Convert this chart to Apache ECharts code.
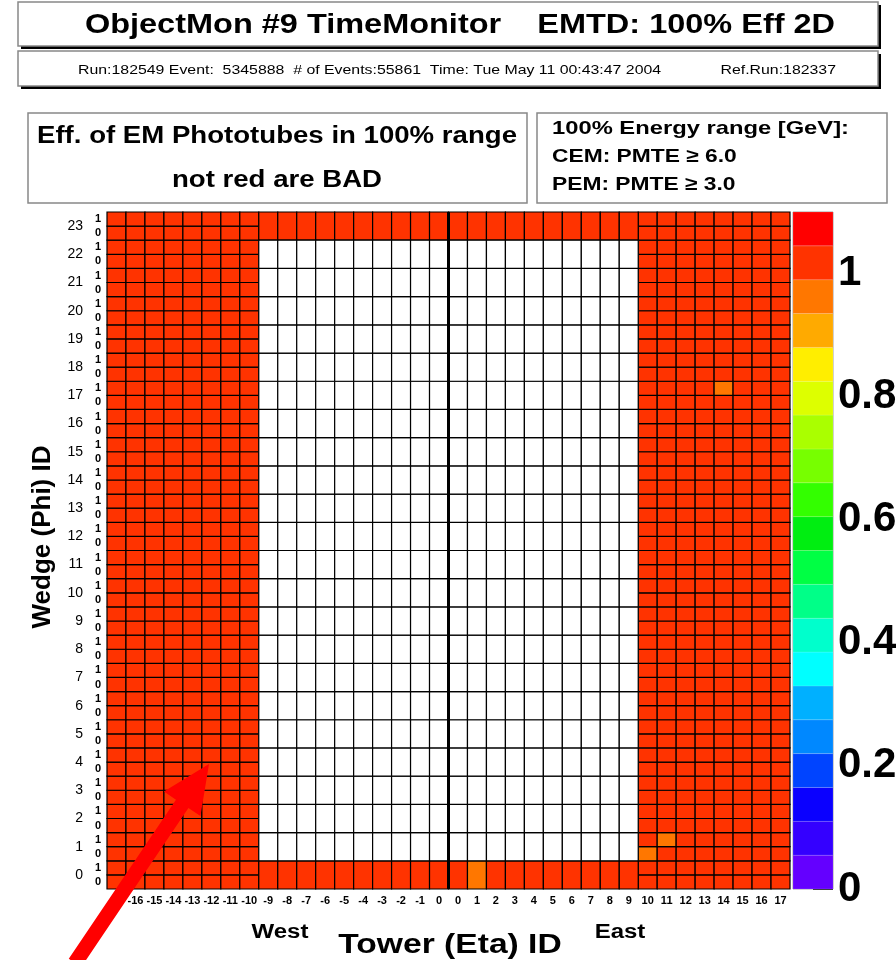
<!DOCTYPE html>
<html><head><meta charset="utf-8">
<script src="https://cdn.jsdelivr.net/npm/echarts@6/dist/echarts.min.js"></script>
<style>html,body{margin:0;padding:0;background:#fff}#c{width:896px;height:960px}</style>
</head><body><div id="c"></div>
<script>
// ---------- data ----------
const towerLabels = ['-17','-16','-15','-14','-13','-12','-11','-10','-9','-8','-7','-6','-5','-4','-3','-2','-1','0',
                     '0','1','2','3','4','5','6','7','8','9','10','11','12','13','14','15','16','17'];
const wedgeLabels = ['0','1','2','3','4','5','6','7','8','9','10','11','12','13','14','15','16','17','18','19','20','21','22','23'];
const subRowLabels = ['0','1'];
const colorbarTicks = [0, 0.2, 0.4, 0.6, 0.8, 1];
const zMin = 0, zMax = 1.1;
const palette = ['#6400ff','#3400ff','#0a00ff','#0044ff','#0088ff','#00b0ff','#00ffff','#00ffcc','#00ff88','#00ff44',
                 '#00ee11','#33ff00','#77ff00','#aaff00','#ddff00','#ffee00','#ffaa00','#ff7700','#ff3300','#ff0000'];

// West plug (towers -17..-10), rows: wedge*2+sub, from wedge 0 sub 0 upward
const westPlugEff = [
 [1,1,1,1,1,1,1,1],[1,1,1,1,1,1,1,1],[1,1,1,1,1,1,1,1],[1,1,1,1,1,1,1,1],
 [1,1,1,1,1,1,1,1],[1,1,1,1,1,1,1,1],[1,1,1,1,1,1,1,1],[1,1,1,1,1,1,1,1],
 [1,1,1,1,1,1,1,1],[1,1,1,1,1,1,1,1],[1,1,1,1,1,1,1,1],[1,1,1,1,1,1,1,1],
 [1,1,1,1,1,1,1,1],[1,1,1,1,1,1,1,1],[1,1,1,1,1,1,1,1],[1,1,1,1,1,1,1,1],
 [1,1,1,1,1,1,1,1],[1,1,1,1,1,1,1,1],[1,1,1,1,1,1,1,1],[1,1,1,1,1,1,1,1],
 [1,1,1,1,1,1,1,1],[1,1,1,1,1,1,1,1],[1,1,1,1,1,1,1,1],[1,1,1,1,1,1,1,1],
 [1,1,1,1,1,1,1,1],[1,1,1,1,1,1,1,1],[1,1,1,1,1,1,1,1],[1,1,1,1,1,1,1,1],
 [1,1,1,1,1,1,1,1],[1,1,1,1,1,1,1,1],[1,1,1,1,1,1,1,1],[1,1,1,1,1,1,1,1],
 [1,1,1,1,1,1,1,1],[1,1,1,1,1,1,1,1],[1,1,1,1,1,1,1,1],[1,1,1,1,1,1,1,1],
 [1,1,1,1,1,1,1,1],[1,1,1,1,1,1,1,1],[1,1,1,1,1,1,1,1],[1,1,1,1,1,1,1,1],
 [1,1,1,1,1,1,1,1],[1,1,1,1,1,1,1,1],[1,1,1,1,1,1,1,1],[1,1,1,1,1,1,1,1],
 [1,1,1,1,1,1,1,1],[1,1,1,1,1,1,1,1],[1,1,1,1,1,1,1,1],[1,1,1,1,1,1,1,1]
];
// East plug (towers 10..17)
const eastPlugEff = [
 [1,1,1,1,1,1,1,1],[1,1,1,1,1,1,1,1],[0.96,1,1,1,1,1,1,1],[1,0.96,1,1,1,1,1,1],
 [1,1,1,1,1,1,1,1],[1,1,1,1,1,1,1,1],[1,1,1,1,1,1,1,1],[1,1,1,1,1,1,1,1],
 [1,1,1,1,1,1,1,1],[1,1,1,1,1,1,1,1],[1,1,1,1,1,1,1,1],[1,1,1,1,1,1,1,1],
 [1,1,1,1,1,1,1,1],[1,1,1,1,1,1,1,1],[1,1,1,1,1,1,1,1],[1,1,1,1,1,1,1,1],
 [1,1,1,1,1,1,1,1],[1,1,1,1,1,1,1,1],[1,1,1,1,1,1,1,1],[1,1,1,1,1,1,1,1],
 [1,1,1,1,1,1,1,1],[1,1,1,1,1,1,1,1],[1,1,1,1,1,1,1,1],[1,1,1,1,1,1,1,1],
 [1,1,1,1,1,1,1,1],[1,1,1,1,1,1,1,1],[1,1,1,1,1,1,1,1],[1,1,1,1,1,1,1,1],
 [1,1,1,1,1,1,1,1],[1,1,1,1,1,1,1,1],[1,1,1,1,1,1,1,1],[1,1,1,1,1,1,1,1],
 [1,1,1,1,1,1,1,1],[1,1,1,1,1,1,1,1],[1,1,1,1,1,1,1,1],[1,1,1,1,0.96,1,1,1],
 [1,1,1,1,1,1,1,1],[1,1,1,1,1,1,1,1],[1,1,1,1,1,1,1,1],[1,1,1,1,1,1,1,1],
 [1,1,1,1,1,1,1,1],[1,1,1,1,1,1,1,1],[1,1,1,1,1,1,1,1],[1,1,1,1,1,1,1,1],
 [1,1,1,1,1,1,1,1],[1,1,1,1,1,1,1,1],[1,1,1,1,1,1,1,1],[1,1,1,1,1,1,1,1]
];
// Central towers (West -9..0, East 0..9), one row per wedge 0..23; null = empty (white)
const N = null;
const centralEff = [
 [1,1,1,1,1,1,1,1,1,1, 1,0.96,1,1,1,1,1,1,1,1],
 [N,N,N,N,N,N,N,N,N,N, N,N,N,N,N,N,N,N,N,N],
 [N,N,N,N,N,N,N,N,N,N, N,N,N,N,N,N,N,N,N,N],
 [N,N,N,N,N,N,N,N,N,N, N,N,N,N,N,N,N,N,N,N],
 [N,N,N,N,N,N,N,N,N,N, N,N,N,N,N,N,N,N,N,N],
 [N,N,N,N,N,N,N,N,N,N, N,N,N,N,N,N,N,N,N,N],
 [N,N,N,N,N,N,N,N,N,N, N,N,N,N,N,N,N,N,N,N],
 [N,N,N,N,N,N,N,N,N,N, N,N,N,N,N,N,N,N,N,N],
 [N,N,N,N,N,N,N,N,N,N, N,N,N,N,N,N,N,N,N,N],
 [N,N,N,N,N,N,N,N,N,N, N,N,N,N,N,N,N,N,N,N],
 [N,N,N,N,N,N,N,N,N,N, N,N,N,N,N,N,N,N,N,N],
 [N,N,N,N,N,N,N,N,N,N, N,N,N,N,N,N,N,N,N,N],
 [N,N,N,N,N,N,N,N,N,N, N,N,N,N,N,N,N,N,N,N],
 [N,N,N,N,N,N,N,N,N,N, N,N,N,N,N,N,N,N,N,N],
 [N,N,N,N,N,N,N,N,N,N, N,N,N,N,N,N,N,N,N,N],
 [N,N,N,N,N,N,N,N,N,N, N,N,N,N,N,N,N,N,N,N],
 [N,N,N,N,N,N,N,N,N,N, N,N,N,N,N,N,N,N,N,N],
 [N,N,N,N,N,N,N,N,N,N, N,N,N,N,N,N,N,N,N,N],
 [N,N,N,N,N,N,N,N,N,N, N,N,N,N,N,N,N,N,N,N],
 [N,N,N,N,N,N,N,N,N,N, N,N,N,N,N,N,N,N,N,N],
 [N,N,N,N,N,N,N,N,N,N, N,N,N,N,N,N,N,N,N,N],
 [N,N,N,N,N,N,N,N,N,N, N,N,N,N,N,N,N,N,N,N],
 [N,N,N,N,N,N,N,N,N,N, N,N,N,N,N,N,N,N,N,N],
 [1,1,1,1,1,1,1,1,1,1, 1,1,1,1,1,1,1,1,1,1]
];

// ---------- build series data ----------
const subAxisLabels = [];
wedgeLabels.forEach(() => subRowLabels.forEach(s => subAxisLabels.push(s)));

const filled = [], empty = [];
westPlugEff.forEach((row, r) => row.forEach((v, c) => filled.push([c, r, r, v])));
eastPlugEff.forEach((row, r) => row.forEach((v, c) => filled.push([28 + c, r, r, v])));
centralEff.forEach((row, w) => row.forEach((v, c) => {
  if (v === null) empty.push([8 + c, 2 * w, 2 * w + 1]);
  else filled.push([8 + c, 2 * w, 2 * w + 1, v]);
}));
const nBins = palette.length, binW = (zMax - zMin) / nBins;
const pieces = palette.map((col, i) => ({ gte: zMin + i * binW, lt: zMin + (i + 1) * binW + (i === nBins - 1 ? 1e-9 : 0), color: col }));
const colorbarData = palette.map((col, i) => [0, zMin + i * binW, zMin + (i + 1) * binW, zMin + (i + 0.5) * binW]);

function cellItem(api, fill) {
  const x = api.value(0), y0 = api.value(1), y1 = api.value(2);
  const a = api.coord([x, y0]), b = api.coord([x, y1]);
  const s = api.size([1, 1]);
  return { type: 'rect',
    shape: { x: a[0] - s[0] / 2, y: b[1] - s[1] / 2, width: s[0], height: a[1] - b[1] + s[1] },
    style: { fill: fill, stroke: '#000', lineWidth: 1.2 } };
}

const FONT = 'Liberation Sans';
function txt(x, y, text, size, opts) {
  opts = opts || {};
  return { type: 'text', x: x, y: y, scaleX: opts.sx || 1.2, rotation: opts.rot || 0, z: 10,
    style: { text: text, fontFamily: FONT, fontSize: size, fontWeight: opts.weight || 'bold',
      fill: '#000', align: opts.align || 'center', verticalAlign: 'middle' } };
}
function box(x, y, w, h, shadow) {
  const els = [];
  if (shadow) els.push({ type: 'rect', shape: { x: x + 3, y: y + 3, width: w, height: h }, style: { fill: '#000' }, z: 1 });
  els.push({ type: 'rect', shape: { x: x, y: y, width: w, height: h }, style: { fill: '#fff', stroke: '#888', lineWidth: 1.5 }, z: 2 });
  return els;
}
// arrow
const tip = [209, 764], tail = [75, 963];
const dx = tip[0] - tail[0], dy = tip[1] - tail[1], L = Math.hypot(dx, dy);
const ux = dx / L, uy = dy / L, px = -uy, py = ux;
const headL = 48, headW = 22, shaftW = 7.5;
const bx = tip[0] - ux * headL, by = tip[1] - uy * headL;
const arrowPts = [
  [tail[0] + px * shaftW, tail[1] + py * shaftW], [bx + px * shaftW, by + py * shaftW], [bx + px * headW, by + py * headW],
  tip, [bx - px * headW, by - py * headW], [bx - px * shaftW, by - py * shaftW], [tail[0] - px * shaftW, tail[1] - py * shaftW]
];

const chart = echarts.init(document.getElementById('c'));
chart.setOption({
  backgroundColor: '#fff',
  animation: false,
  textStyle: { fontFamily: FONT },
  grid: [
    { left: 107, top: 212, width: 683, height: 677, outerBoundsMode: 'none' },
    { left: 793, top: 212, width: 40, height: 677, outerBoundsMode: 'none', show: true, borderColor: '#999', borderWidth: 1 }
  ],
  xAxis: [
    { type: 'category', gridIndex: 0, data: towerLabels, position: 'bottom',
      axisLine: { show: false }, axisTick: { show: false }, splitLine: { show: false },
      axisLabel: { interval: 0, hideOverlap: false, showMinLabel: true, showMaxLabel: true,
        fontSize: 11, fontWeight: 'bold', color: '#000', margin: 6, fontFamily: FONT } },
    { type: 'category', gridIndex: 1, data: ['z'], show: false }
  ],
  yAxis: [
    { type: 'category', gridIndex: 0, data: subAxisLabels, position: 'left',
      axisLine: { show: false }, axisTick: { show: false }, splitLine: { show: false },
      axisLabel: { interval: 0, hideOverlap: false, showMinLabel: true, showMaxLabel: true,
        fontSize: 11, fontWeight: 'bold', color: '#000', margin: 6, fontFamily: FONT } },
    { type: 'category', gridIndex: 0, data: wedgeLabels, position: 'left', offset: 20,
      axisLine: { show: false }, axisTick: { show: false }, splitLine: { show: false },
      axisLabel: { interval: 0, hideOverlap: false, showMinLabel: true, showMaxLabel: true,
        fontSize: 14, color: '#000', margin: 4, fontFamily: FONT } },
    { type: 'value', gridIndex: 1, min: zMin, max: zMax, interval: 0.2, position: 'right',
      axisLine: { show: false }, splitLine: { show: false },
      axisTick: { show: true, inside: true, length: 20, lineStyle: { color: '#000', width: 1.5 } },
      axisLabel: { show: true, showMaxLabel: false, fontSize: 42, fontWeight: 'bold', color: '#000', margin: 5, fontFamily: FONT,
        formatter: v => (colorbarTicks.some(t => Math.abs(t - v) < 1e-6) ? String(+v.toFixed(1)) : '') } }
  ],
  visualMap: { type: 'piecewise', show: false, seriesIndex: [0, 3], dimension: 3, pieces: pieces },
  series: [
    { type: 'custom', name: 'efficiency', xAxisIndex: 0, yAxisIndex: 0, data: filled, encode: { x: 0, y: [1, 2] },
      renderItem: (p, api) => cellItem(api, api.visual('color')), z: 2 },
    { type: 'custom', name: 'empty', xAxisIndex: 0, yAxisIndex: 0, data: empty, encode: { x: 0, y: [1, 2] },
      renderItem: (p, api) => cellItem(api, '#fff'), z: 2 },
    { type: 'custom', name: 'divider', xAxisIndex: 0, yAxisIndex: 0, data: [[17, 18]], z: 3,
      renderItem: (p, api) => {
        const a = api.coord([api.value(0), 0]), b = api.coord([api.value(1), 47]);
        const s = api.size([1, 1]);
        const xm = (a[0] + b[0]) / 2;
        return { type: 'line', shape: { x1: xm, y1: b[1] - s[1] / 2, x2: xm, y2: a[1] + s[1] / 2 }, style: { stroke: '#000', lineWidth: 3 } };
      } },
    { type: 'custom', name: 'colorbar', xAxisIndex: 1, yAxisIndex: 2, data: colorbarData, z: 1,
      renderItem: (p, api) => {
        const a = api.coord([0, api.value(1)]), b = api.coord([0, api.value(2)]);
        const w = api.size([1, 0])[0];
        return { type: 'rect', shape: { x: a[0] - w / 2, y: b[1], width: w, height: a[1] - b[1] },
          style: { fill: api.visual('color'), stroke: 'rgba(255,255,255,0.25)', lineWidth: 0.5 } };
      } }
  ],
  graphic: [].concat(
    box(18, 2, 860, 44, true),
    box(18, 51, 860, 35, true),
    box(28, 113, 499, 90, false),
    box(537, 113, 350, 90, false),
    [
      txt(460, 25, 'ObjectMon #9 TimeMonitor    EMTD: 100% Eff 2D', 28, { sx: 1.16 }),
      txt(78, 70, 'Run:182549 Event:  5345888  # of Events:55861  Time: Tue May 11 00:43:47 2004', 13, { align: 'left', weight: 'normal', sx: 1.22 }),
      txt(836, 70, 'Ref.Run:182337', 13, { align: 'right', weight: 'normal', sx: 1.22 }),
      txt(277, 137, 'Eff. of EM Phototubes in 100% range', 23),
      txt(277, 181, 'not red are BAD', 23),
      txt(552, 129, '100% Energy range [GeV]:', 19, { align: 'left', sx: 1.25 }),
      txt(552, 157, 'CEM: PMTE \u2265 6.0', 19, { align: 'left', sx: 1.2 }),
      txt(552, 185, 'PEM: PMTE \u2265 3.0', 19, { align: 'left', sx: 1.2 }),
      txt(280, 932, 'West', 20),
      txt(620, 932, 'East', 20),
      txt(450, 945, 'Tower (Eta) ID', 28),
      txt(43, 537, 'Wedge (Phi) ID', 26, { rot: Math.PI / 2, sx: 1 }),
      { type: 'polygon', shape: { points: arrowPts }, style: { fill: '#ff0000' }, z: 20 }
    ]
  )
});
</script></body></html>
